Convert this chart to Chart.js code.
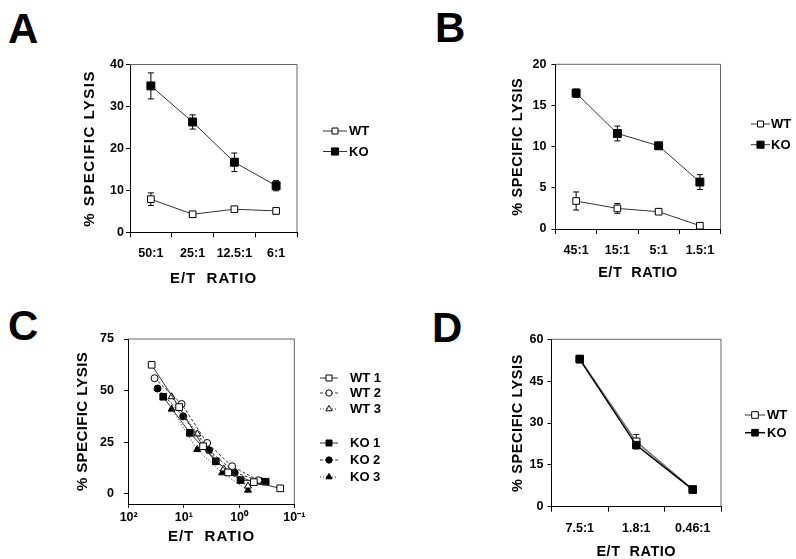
<!DOCTYPE html>
<html>
<head>
<meta charset="utf-8">
<script src="https://cdn.jsdelivr.net/npm/chart.js@4.4.1/dist/chart.umd.min.js"></script>
<style>
  html, body { margin: 0; padding: 0; background: #fff; }
  #wrap { position: relative; width: 796px; height: 559px; overflow: hidden; }
  #wrap canvas { position: absolute; left: 0; top: 0; }
  .tag { position: absolute; font: bold 42px "Liberation Sans", Arial, sans-serif; line-height: 1; color: #000; }
</style>
</head>
<body>
<div id="wrap">
  <div class="tag" style="left:8px;top:8px">A</div>
  <div class="tag" style="left:435px;top:7px">B</div>
  <div class="tag" style="left:8px;top:305px">C</div>
  <div class="tag" style="left:432px;top:307px">D</div>
  <canvas id="chartA" width="796" height="559"></canvas>
  <canvas id="chartB" width="796" height="559"></canvas>
  <canvas id="chartC" width="796" height="559"></canvas>
  <canvas id="chartD" width="796" height="559"></canvas>
</div>
<script>
// ---- datos ----
// A
const ratiosA = ["50:1", "25:1", "12.5:1", "6:1"];
const wtA = [7.9, 4.3, 5.5, 5.1];
const wtErrA = [1.5, 0.5, 0.4, 0.7];
const koA = [34.9, 26.3, 16.7, 11.1];
const koErrA = [3.1, 1.7, 2.2, 1.2];
const yTicksA = [0, 10, 20, 30, 40];

// B
const ratiosB = ["45:1", "15:1", "5:1", "1.5:1"];
const wtB = [3.4, 2.5, 2.1, 0.4];
const wtErrB = [1.1, 0.6, 0.2, 0.1];
const koB = [16.5, 11.6, 10.1, 5.7];
const koErrB = [0.5, 0.9, 0.2, 0.9];
const yTicksB = [0, 5, 10, 15, 20];

// C (eje x logaritmico, invertido)
const wt1X = [38.4, 12.2, 4.5, 1.58, 0.54, 0.18];
const wt1Y = [62.5, 42, 23, 10.3, 5.6, 2.6];
const wt2X = [34, 11, 3.8, 1.34, 0.45];
const wt2Y = [56, 43.5, 24.6, 13.3, 6.5];
const wt3X = [16.7, 5.7, 1.9, 0.69];
const wt3Y = [47, 29, 12, 3.7];
const ko1X = [23.7, 7.8, 2.64, 0.94, 0.33];
const ko1Y = [47, 29.5, 15.7, 6.6, 5.8];
const ko2X = [30, 10.3, 3.5, 1.2, 0.41];
const ko2Y = [51, 37.5, 21.1, 10.2, 6.1];
const ko3X = [16.7, 5.75, 2.03, 0.69];
const ko3Y = [41, 21.4, 10.1, 1.7];
const yTicksC = [0, 25, 50, 75];
const xTicksC = [100, 10, 1, 0.1];
const xTickLabelsC = ["10²", "10¹", "10⁰", "10⁻¹"];

// D
const ratiosD = ["7.5:1", "1.8:1", "0.46:1"];
const wtD = [53, 23.3, 6.2];
const wtErrD = [0, 2.6, 0];
const koD = [52.8, 22.1, 6.1];
const koErrD = [0.6, 1, 0.4];
const yTicksD = [0, 15, 30, 45, 60];

const FONT = "'Liberation Sans', Arial, Helvetica, sans-serif";
Chart.defaults.color = '#000';
Chart.defaults.font.family = FONT;

// posicion de cada panel en la pagina (796x559)
function geometry(g) {
    const lh = g.titleSize * 1.2;
    const padLeft = g.yTitleX - lh / 2;
    const padBottom = 559 - (g.xTitleY + lh / 2);
    return {
        padding: { left: padLeft, top: g.top, right: 796 - g.right, bottom: padBottom },
        yWidth: g.left - padLeft,
        xHeight: 559 - padBottom - g.bottom
    };
}

// barras de error (antes de los puntos, para que queden detras)
const errorBars = {
    id: 'errorBars',
    beforeDatasetsDraw(chart) {
        const ctx = chart.ctx;
        chart.data.datasets.forEach((ds, i) => {
            if (!ds.errors) return;
            const meta = chart.getDatasetMeta(i);
            const ys = chart.scales[meta.yAxisID];
            ctx.save();
            ctx.strokeStyle = '#000';
            ctx.lineWidth = 1;
            meta.data.forEach((pt, j) => {
                const e = ds.errors[j];
                if (!e) return;
                const v = ds.data[j];
                const top = ys.getPixelForValue(v + e);
                const bot = ys.getPixelForValue(v - e);
                ctx.beginPath();
                ctx.moveTo(pt.x, top); ctx.lineTo(pt.x, bot);
                ctx.moveTo(pt.x - 3, top); ctx.lineTo(pt.x + 3, top);
                ctx.moveTo(pt.x - 3, bot); ctx.lineTo(pt.x + 3, bot);
                ctx.stroke();
            });
            ctx.restore();
        });
    }
};

// borde superior y derecho del recuadro
const frame = {
    id: 'frame',
    beforeDatasetsDraw(chart) {
        const a = chart.chartArea, ctx = chart.ctx;
        ctx.save();
        ctx.strokeStyle = '#666';
        ctx.lineWidth = 1;
        ctx.beginPath();
        ctx.moveTo(a.left, a.top);
        ctx.lineTo(a.right, a.top);
        ctx.lineTo(a.right, a.bottom);
        ctx.stroke();
        ctx.restore();
    }
};

// titulos de eje con espaciado entre letras
function spacedTitles(xSp, ySp) {
    return {
        id: 'spacedTitles',
        afterUpdate(chart) {
            Object.values(chart.scales).forEach(s => {
                if (s._wrapped) return;
                const orig = s.drawTitle;
                const sp = s.isHorizontal() ? xSp : ySp;
                s.drawTitle = function () {
                    this.ctx.save();
                    this.ctx.letterSpacing = sp + 'px';
                    orig.call(this);
                    this.ctx.restore();
                };
                s._wrapped = true;
            });
        }
    };
}

// leyenda lateral: linea + marcador + texto
function sideLegend(spec) {
    return {
        id: 'sideLegend',
        afterDraw(chart) {
            const ctx = chart.ctx;
            spec.rows.forEach(row => {
                const ds = chart.data.datasets[row.dataset];
                ctx.save();
                ctx.strokeStyle = ds.borderColor;
                ctx.lineWidth = ds.borderWidth;
                ctx.setLineDash(ds.borderDash || []);
                ctx.beginPath();
                ctx.moveTo(spec.x, row.y);
                ctx.lineTo(spec.x + spec.len, row.y);
                ctx.stroke();
                ctx.setLineDash([]);
                ctx.fillStyle = ds.pointBackgroundColor;
                ctx.strokeStyle = '#000';
                ctx.lineWidth = 1;
                Chart.helpers.drawPoint(ctx, {
                    pointStyle: ds.pointStyle, radius: ds.pointRadius * 0.9, rotation: 0, borderWidth: 1
                }, spec.x + spec.len / 2, row.y);
                ctx.fillStyle = '#000';
                ctx.font = 'bold 13px ' + FONT;
                ctx.textBaseline = 'middle';
                ctx.textAlign = 'left';
                ctx.fillText(ds.label, spec.textX, row.y + 0.5);
                ctx.restore();
            });
        }
    };
}

function series(label, data, style) {
    return Object.assign({
        label, data,
        borderColor: '#333', borderWidth: 1, tension: 0, fill: false,
        pointBorderColor: '#000', pointBorderWidth: 1, pointHoverRadius: 0
    }, style);
}

const openSq = (r) => ({ pointStyle: 'rect', pointRadius: r, pointBackgroundColor: '#fff' });
const fullSq = (r) => ({ pointStyle: 'rect', pointRadius: r, pointBackgroundColor: '#000' });

function makePanel(id, g, data, xScale, yTicks, legend) {
    const box = geometry(g);
    const tickFont = { family: FONT, size: 12.5, weight: 'bold' };
    const titleFont = { family: FONT, size: g.titleSize, weight: 'bold' };

    xScale.afterFit = s => { s.height = box.xHeight; };
    xScale.border = { display: true, color: '#000', width: 1 };
    xScale.title = { display: true, text: 'E/T  RATIO', font: titleFont, padding: 0, color: '#000' };
    xScale.ticks = Object.assign({ padding: g.xTickPad, font: tickFont, color: '#000', autoSkip: false, maxRotation: 0 }, xScale.ticks || {});
    xScale.grid = Object.assign({ drawOnChartArea: false, drawTicks: true, tickLength: g.xTickLen, color: '#000' }, xScale.grid || {});

    return new Chart(document.getElementById(id), {
        type: 'line',
        data: data,
        options: {
            responsive: false,
            animation: false,
            devicePixelRatio: 1,
            events: [],
            layout: { padding: box.padding },
            plugins: { legend: { display: false }, tooltip: { enabled: false } },
            scales: {
                x: xScale,
                y: {
                    type: 'linear',
                    position: 'left',
                    min: g.yMin !== undefined ? g.yMin : yTicks[0],
                    max: yTicks[yTicks.length - 1],
                    afterBuildTicks: s => { s.ticks = yTicks.map(v => ({ value: v })); },
                    afterFit: s => { s.width = box.yWidth; },
                    grid: { drawOnChartArea: false, drawTicks: true, tickLength: g.yTickLen, color: '#000' },
                    border: { display: true, color: '#000', width: 1 },
                    ticks: { padding: g.yTickPad, font: tickFont, color: '#000', autoSkip: false },
                    title: { display: true, text: '% SPECIFIC LYSIS', font: titleFont, padding: 0, color: '#000' }
                }
            }
        },
        plugins: [frame, errorBars, spacedTitles(g.xSpacing, g.ySpacing), sideLegend(legend)]
    });
}

function catAxis() {
    return { type: 'category', offset: true, grid: { offset: true } };
}

// ---- A ----
makePanel('chartA',
    { left: 130, right: 297, top: 64.5, bottom: 232.3, yTitleX: 90, xTitleY: 278.7, titleSize: 15,
      xSpacing: 1.0, ySpacing: 1.5, yTickLen: 4, yTickPad: 2, xTickLen: 5, xTickPad: 9 },
    {
        labels: ratiosA,
        datasets: [
            series('WT', wtA, Object.assign({ errors: wtErrA }, openSq(4.7))),
            series('KO', koA, Object.assign({ errors: koErrA }, fullSq(5.6)))
        ]
    },
    catAxis(), yTicksA,
    { x: 323, len: 24, textX: 349, rows: [{ dataset: 0, y: 131 }, { dataset: 1, y: 151.5 }] });

// ---- B ----
makePanel('chartB',
    { left: 555.5, right: 720.5, top: 64.3, bottom: 229, yTitleX: 517.5, xTitleY: 273.3, titleSize: 14.5,
      xSpacing: 0.5, ySpacing: 0.6, yTickLen: 4, yTickPad: 5, xTickLen: 5, xTickPad: 9 },
    {
        labels: ratiosB,
        datasets: [
            series('WT', wtB, Object.assign({ errors: wtErrB }, openSq(4.7))),
            series('KO', koB, Object.assign({ errors: koErrB }, fullSq(5.6)))
        ]
    },
    catAxis(), yTicksB,
    { x: 751, len: 19, textX: 771, rows: [{ dataset: 0, y: 124 }, { dataset: 1, y: 144.7 }] });

// ---- C ----
function pts(xs, ys) { return xs.map((x, i) => ({ x: x, y: ys[i] })); }
const dashC = [3, 2], dotC = [1, 2];
makePanel('chartC',
    { left: 128.7, right: 294.3, top: 339, bottom: 504, yTitleX: 82.7, xTitleY: 537, titleSize: 15, yMin: -5,
      xSpacing: 1.0, ySpacing: 0.4, yTickLen: 4.7, yTickPad: 10, xTickLen: 4, xTickPad: 2 },
    {
        datasets: [
            series('WT 1', pts(wt1X, wt1Y), openSq(4.7)),
            series('WT 2', pts(wt2X, wt2Y), { pointStyle: 'circle', pointRadius: 3.5, pointBackgroundColor: '#fff', borderDash: dashC }),
            series('WT 3', pts(wt3X, wt3Y), { pointStyle: 'triangle', pointRadius: 4, pointBackgroundColor: '#fff', borderDash: dotC }),
            series('KO 1', pts(ko1X, ko1Y), fullSq(4.7)),
            series('KO 2', pts(ko2X, ko2Y), { pointStyle: 'circle', pointRadius: 3.5, pointBackgroundColor: '#000', borderDash: dashC }),
            series('KO 3', pts(ko3X, ko3Y), { pointStyle: 'triangle', pointRadius: 4, pointBackgroundColor: '#000', borderDash: dotC })
        ]
    },
    {
        type: 'logarithmic', reverse: true, min: 0.1, max: 100,
        afterBuildTicks: s => { s.ticks = xTicksC.map(v => ({ value: v })); },
        ticks: { callback: (v, i) => xTickLabelsC[i] }
    },
    yTicksC,
    { x: 320, len: 18, textX: 350, rows: [
        { dataset: 0, y: 378 }, { dataset: 1, y: 393 }, { dataset: 2, y: 409 },
        { dataset: 3, y: 443 }, { dataset: 4, y: 460 }, { dataset: 5, y: 477 }
    ] });

// ---- D ----
makePanel('chartD',
    { left: 551.5, right: 721, top: 339.3, bottom: 506.7, yTitleX: 517.5, xTitleY: 552, titleSize: 14.5,
      xSpacing: 0.5, ySpacing: 0.6, yTickLen: 4, yTickPad: 4, xTickLen: 5, xTickPad: 9.4 },
    {
        labels: ratiosD,
        datasets: [
            series('WT', wtD, Object.assign({ errors: wtErrD, order: 1, borderColor: '#777', borderWidth: 1.5 }, openSq(5.2))),
            series('KO', koD, Object.assign({ errors: koErrD, order: 0, borderColor: '#000', borderWidth: 1.5 }, fullSq(5.2)))
        ]
    },
    catAxis(), yTicksD,
    { x: 745, len: 20, textX: 767, rows: [{ dataset: 0, y: 415 }, { dataset: 1, y: 432.7 }] });
</script>
</body>
</html>
